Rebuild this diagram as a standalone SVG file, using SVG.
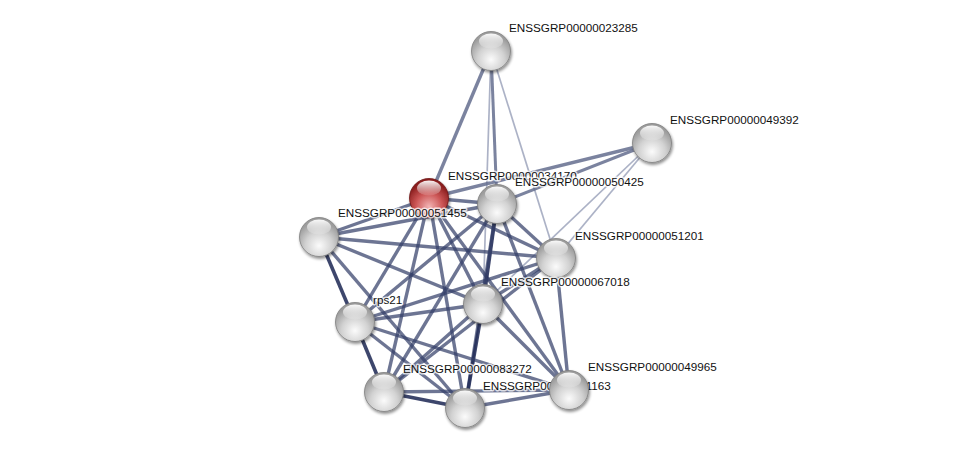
<svg xmlns="http://www.w3.org/2000/svg" width="975" height="453" viewBox="0 0 975 453">
<defs>
<radialGradient id="ballG" cx="50%" cy="72%" r="62%">
<stop offset="0%" stop-color="#fbfbfb"/>
<stop offset="55%" stop-color="#d2d2d2"/>
<stop offset="100%" stop-color="#9c9c9c"/>
</radialGradient>
<radialGradient id="ballR" cx="50%" cy="72%" r="62%">
<stop offset="0%" stop-color="#f2b4b4"/>
<stop offset="55%" stop-color="#cc5656"/>
<stop offset="100%" stop-color="#8a1e1e"/>
</radialGradient>
<linearGradient id="hl" x1="0" y1="0" x2="0" y2="1">
<stop offset="0%" stop-color="#ffffff" stop-opacity="0.95"/>
<stop offset="100%" stop-color="#ffffff" stop-opacity="0.1"/>
</linearGradient>
<filter id="sh" x="-40%" y="-40%" width="180%" height="180%">
<feGaussianBlur in="SourceAlpha" stdDeviation="1.6"/>
<feOffset dx="1" dy="2" result="b"/>
<feComponentTransfer><feFuncA type="linear" slope="0.45"/></feComponentTransfer>
<feMerge><feMergeNode/><feMergeNode in="SourceGraphic"/></feMerge>
</filter>
</defs>
<style>
.e{stroke:#34406a;stroke-opacity:0.72;stroke-width:3.4;fill:none}
.d{stroke:#222c58;stroke-opacity:0.88;stroke-width:3.6;fill:none}
.m{stroke:#646d8e;stroke-opacity:0.85;stroke-width:3.4;fill:none}
.l{stroke:#a3aac0;stroke-opacity:0.9;stroke-width:1.7;fill:none}
.ball{fill:url(#ballG);stroke:#7e7e7e;stroke-width:0.8}
.red{fill:url(#ballR);stroke:#6e1616;stroke-width:0.8}
.h{fill:url(#hl)}
text{font-family:"Liberation Sans",Arial,sans-serif;font-size:11.7px;fill:#111;stroke:#fff;stroke-width:3;stroke-opacity:0.75;paint-order:stroke;stroke-linejoin:round}
</style>
<rect width="975" height="453" fill="#fff"/>
<g id="edges">
<line class="l" x1="491" y1="51" x2="483" y2="304"/>
<line class="l" x1="491" y1="51" x2="556" y2="258"/>
<line class="l" x1="652" y1="143" x2="556" y2="258"/>
<line class="l" x1="652" y1="143" x2="483" y2="304"/>
<line class="m" x1="491" y1="51" x2="429" y2="198"/>
<line class="m" x1="491" y1="51" x2="497" y2="204" style="stroke-width:3"/>
<line class="m" x1="652" y1="143" x2="429" y2="198"/>
<line class="m" x1="652" y1="143" x2="497" y2="204" style="stroke-width:3"/>
<line class="e" x1="429" y1="198" x2="497" y2="204"/>
<line class="e" x1="429" y1="198" x2="319" y2="237"/>
<line class="e" x1="429" y1="198" x2="556" y2="258"/>
<line class="e" x1="429" y1="198" x2="483" y2="304"/>
<line class="e" x1="429" y1="198" x2="355" y2="322"/>
<line class="e" x1="429" y1="198" x2="384" y2="392"/>
<line class="e" x1="429" y1="198" x2="465" y2="408"/>
<line class="e" x1="429" y1="198" x2="569" y2="390"/>
<line class="e" x1="497" y1="204" x2="319" y2="237"/>
<line class="e" x1="497" y1="204" x2="556" y2="258"/>
<line class="d" x1="497" y1="204" x2="483" y2="304"/>
<line class="e" x1="497" y1="204" x2="355" y2="322"/>
<line class="e" x1="497" y1="204" x2="384" y2="392"/>
<line class="e" x1="497" y1="204" x2="465" y2="408"/>
<line class="e" x1="497" y1="204" x2="569" y2="390"/>
<line class="e" x1="319" y1="237" x2="556" y2="258"/>
<line class="e" x1="319" y1="237" x2="483" y2="304"/>
<line class="d" x1="319" y1="237" x2="355" y2="322"/>
<line class="e" x1="319" y1="237" x2="465" y2="408"/>
<line class="e" x1="556" y1="258" x2="483" y2="304"/>
<line class="e" x1="556" y1="258" x2="355" y2="322"/>
<line class="e" x1="556" y1="258" x2="384" y2="392"/>
<line class="e" x1="556" y1="258" x2="569" y2="390"/>
<line class="e" x1="483" y1="304" x2="355" y2="322"/>
<line class="e" x1="483" y1="304" x2="384" y2="392"/>
<line class="d" x1="483" y1="304" x2="465" y2="408"/>
<line class="e" x1="483" y1="304" x2="569" y2="390"/>
<line class="d" x1="355" y1="322" x2="384" y2="392"/>
<line class="e" x1="355" y1="322" x2="465" y2="408"/>
<line class="e" x1="355" y1="322" x2="569" y2="390"/>
<line class="d" x1="384" y1="392" x2="465" y2="408"/>
<line class="e" x1="384" y1="392" x2="569" y2="390"/>
<line class="e" x1="465" y1="408" x2="569" y2="390"/>
</g>
<g id="n23285"><circle class="ball" cx="491" cy="51" r="19.5" filter="url(#sh)"/><ellipse class="h" cx="491" cy="41" rx="12" ry="7.5"/><text x="509" y="32">ENSSGRP00000023285</text></g>
<g id="n49392"><circle class="ball" cx="652" cy="143" r="19.5" filter="url(#sh)"/><ellipse class="h" cx="652" cy="133" rx="12" ry="7.5"/><text x="670" y="124">ENSSGRP00000049392</text></g>
<g id="n51455"><circle class="ball" cx="319" cy="237" r="19.5" filter="url(#sh)"/><ellipse class="h" cx="319" cy="227" rx="12" ry="7.5"/></g>
<g id="n34170"><circle class="red" cx="429" cy="198" r="19.5" filter="url(#sh)"/><ellipse class="h" cx="429" cy="188" rx="12" ry="7.5"/><text x="448" y="180">ENSSGRP00000034170</text></g>
<g id="n51455-label"><text x="338" y="217">ENSSGRP00000051455</text></g>
<g id="n50425"><circle class="ball" cx="497" cy="204" r="19.5" filter="url(#sh)"/><ellipse class="h" cx="497" cy="194" rx="12" ry="7.5"/><text x="515" y="186">ENSSGRP00000050425</text></g>
<g id="n51201"><circle class="ball" cx="556" cy="258" r="19.5" filter="url(#sh)"/><ellipse class="h" cx="556" cy="248" rx="12" ry="7.5"/><text x="575" y="240">ENSSGRP00000051201</text></g>
<g id="n67018"><circle class="ball" cx="483" cy="304" r="19.5" filter="url(#sh)"/><ellipse class="h" cx="483" cy="294" rx="12" ry="7.5"/><text x="501" y="286">ENSSGRP00000067018</text></g>
<g id="rps21"><circle class="ball" cx="355" cy="322" r="19.5" filter="url(#sh)"/><ellipse class="h" cx="355" cy="312" rx="12" ry="7.5"/><text x="373" y="304">rps21</text></g>
<g id="n83272"><circle class="ball" cx="384" cy="392" r="19.5" filter="url(#sh)"/><ellipse class="h" cx="384" cy="382" rx="12" ry="7.5"/><text x="403" y="373">ENSSGRP00000083272</text></g>
<g id="n51163"><circle class="ball" cx="465" cy="408" r="19.5" filter="url(#sh)"/><ellipse class="h" cx="465" cy="398" rx="12" ry="7.5"/><text x="483" y="390">ENSSGRP00000051163</text></g>
<g id="n49965"><circle class="ball" cx="569" cy="390" r="19.5" filter="url(#sh)"/><ellipse class="h" cx="569" cy="380" rx="12" ry="7.5"/><text x="588" y="371">ENSSGRP00000049965</text></g>
</svg>
